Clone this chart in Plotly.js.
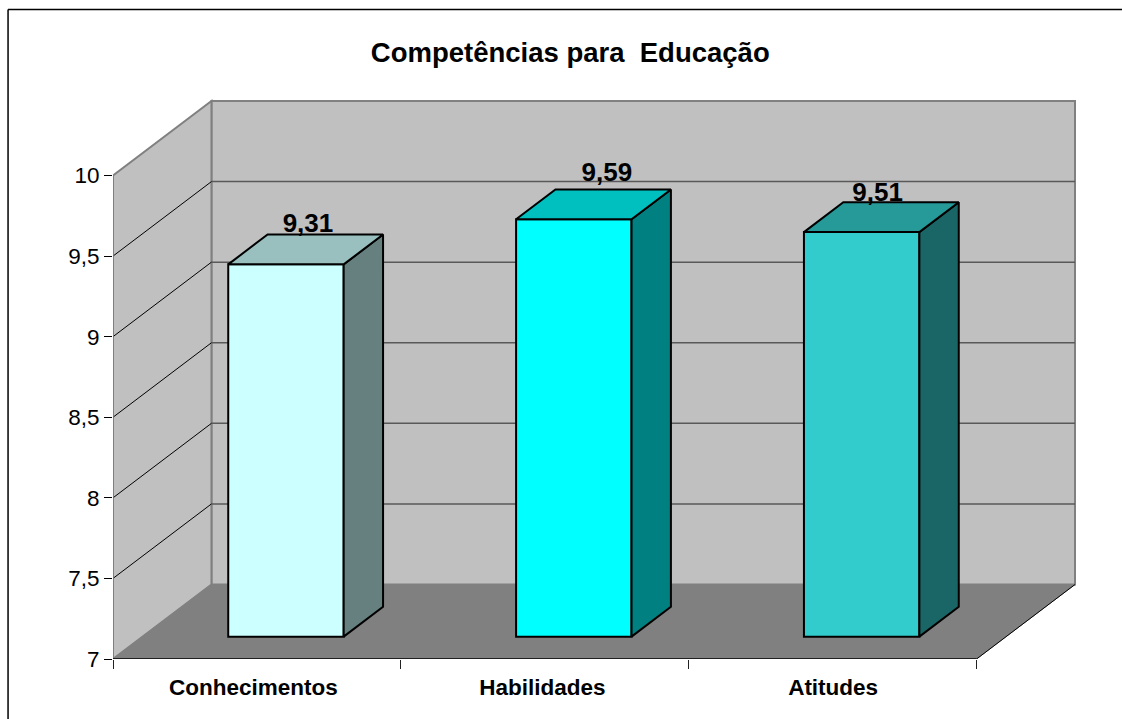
<!DOCTYPE html>
<html><head><meta charset="utf-8">
<script src="https://cdn.plot.ly/plotly-3.0.1.min.js"></script>
<style>html,body{margin:0;padding:0;background:#fff;overflow:hidden}#chart{width:1122px;height:719px}</style>
</head><body><div id="chart"></div>
<script>
const categories = ["Conhecimentos", "Habilidades", "Atitudes"];
const values = [9.31, 9.59, 9.51];
const valueLabels = ["9,31", "9,59", "9,51"];
const yTickVals = [7, 7.5, 8, 8.5, 9, 9.5, 10];
const yTickText = ["7", "7,5", "8", "8,5", "9", "9,5", "10"];
const frontColors = ["#CCFFFF", "#00FFFF", "#33CCCC"];
const sideColors = ["#668080", "#008080", "#1A6666"];
const topColors = ["#99BFBF", "#00BFBF", "#269999"];

// Pixel frame of the pseudo-3D axes
const pxX = 288, pxY = 161.17;            // pixels per category / per unit
const L = 112.5, B = 659, extra = 3;
const depthX = 98.5 / pxX, depthY = 74.5 / pxY; // wall depth in data units
const yMin = 7, yMax = 10, nCat = categories.length;
const xTop = nCat + depthX, yTop = yMax + depthY;
const barW = 115.5 / pxX, zFront = 0.3, zBack = 0.7;
const labelDx = [22, 33, 16], labelDy = [9, 15, 8], catLabelDx = [-3.5, -2.5, 0.5];
const font = "Liberation Sans, Arial, sans-serif";

const centers = categories.map((c, i) => i + 0.5 + zFront * depthX - 0.5 / pxX);
const frontBase = yMin + zFront * depthY;
const dxBar = (zBack - zFront) * depthX, dyBar = (zBack - zFront) * depthY;

const traces = [{
  type: "bar", x: centers, y: values.map(v => v - yMin), base: frontBase,
  width: barW, marker: {color: frontColors, line: {color: "#000", width: 2}},
  showlegend: false, hoverinfo: "skip"
}];
values.forEach((v, i) => {
  const x0 = centers[i] - barW / 2, x1 = centers[i] + barW / 2;
  const t = v + zFront * depthY;
  const poly = (xs, ys, col) => traces.push({
    type: "scatter", mode: "lines", x: xs, y: ys, fill: "toself", fillcolor: col,
    line: {color: "#000", width: 2}, showlegend: false, hoverinfo: "skip"
  });
  poly([x1, x1 + dxBar, x1 + dxBar, x1, x1], [frontBase, frontBase + dyBar, t + dyBar, t, frontBase], sideColors[i]);
  poly([x0, x1, x1 + dxBar, x0 + dxBar, x0], [t, t, t + dyBar, t + dyBar, t], topColors[i]);
});
traces.push({
  type: "scatter", mode: "text", cliponaxis: false, showlegend: false, hoverinfo: "skip",
  x: centers.map((c, i) => c + labelDx[i] / pxX),
  y: values.map((v, i) => v + zBack * depthY + labelDy[i] / pxY),
  text: valueLabels, textposition: "middle center",
  textfont: {family: font, size: 26, color: "#000", weight: 700}
});
// axis edges that sit on the plot boundary
const edge = (xs, ys, col, w) => traces.push({
  type: "scatter", mode: "lines", x: xs, y: ys, cliponaxis: false,
  line: {color: col, width: w}, showlegend: false, hoverinfo: "skip"
});
edge([0, 0], [yMin, yMax], "#808080", 1.5);
edge([0, nCat], [yMin, yMin], "#000", 1.5);

const poly = (xs, ys) => "M" + xs.map((x, i) => x + "," + ys[i]).join("L") + "Z";
const shapes = [
  {type: "path", layer: "below", xref: "x", yref: "y",
   path: poly([depthX, xTop, xTop, depthX], [yMin + depthY, yMin + depthY, yTop, yTop]),
   fillcolor: "#C0C0C0", line: {color: "#808080", width: 2}},
  {type: "path", layer: "below", xref: "x", yref: "y",
   path: poly([0, depthX, depthX, 0], [yMin, yMin + depthY, yTop, yMax]),
   fillcolor: "#C0C0C0", line: {color: "#808080", width: 2}},
  {type: "path", layer: "below", xref: "x", yref: "y",
   path: poly([0, nCat, xTop, depthX], [yMin, yMin, yMin + depthY, yMin + depthY]),
   fillcolor: "#808080", line: {color: "#808080", width: 1}},
  {type: "line", layer: "below", xref: "x", yref: "y", x0: nCat, y0: yMin, x1: xTop, y1: yMin + depthY,
   line: {color: "#000", width: 1}}
];
yTickVals.filter(v => v > yMin && v < yMax).forEach(v => {
  shapes.push({type: "line", layer: "below", xref: "x", yref: "y", x0: depthX, x1: xTop, y0: v + depthY, y1: v + depthY,
    line: {color: "#595959", width: 1.5}});
  shapes.push({type: "line", layer: "below", xref: "x", yref: "y", x0: 0, x1: depthX, y0: v, y1: v + depthY,
    line: {color: "#000", width: 1}});
});
// chart-area frame: left and top edges only, the rest is cropped off
const W = 1122, H = 719;
const plotW = xTop * pxX + extra, plotH = (yTop - yMin) * pxY + extra;
const pX = px => (px - L) / plotW, pY = py => (B - py) / plotH;
shapes.push({type: "line", xref: "paper", yref: "paper", x0: pX(7.5), x1: pX(7.5), y0: pY(9.5), y1: pY(H + 2), line: {color: "#000", width: 1.5}});
shapes.push({type: "line", xref: "paper", yref: "paper", x0: pX(7.5), x1: pX(W + 2), y0: pY(9.5), y1: pY(9.5), line: {color: "#000", width: 1.5}});

const layout = {
  width: W, height: H, paper_bgcolor: "#fff", plot_bgcolor: "rgba(0,0,0,0)",
  margin: {l: L, r: W - L - plotW, t: B - plotH, b: H - B, pad: 0},
  barmode: "overlay", showlegend: false, shapes,
  title: {text: "Competências para \u00a0Educação", x: pX(570), xanchor: "center", xref: "paper",
    y: 1 - 52 / H, yanchor: "middle", yref: "container", font: {family: font, size: 27.5, color: "#000", weight: 700}},
  font: {family: font, color: "#000"},
  xaxis: {type: "linear", range: [0, plotW / pxX], fixedrange: true, showgrid: false, zeroline: false, showline: false,
    tickmode: "array", tickvals: categories.map((c, i) => i + 0.5 + catLabelDx[i] / pxX), ticktext: categories,
    ticks: "", ticklen: 0, tickfont: {family: font, size: 22.5, color: "#000", weight: 700}, ticklabelstandoff: 12,
    minor: {ticks: "outside", tickmode: "array", tickvals: [0, 1, 2, 3], ticklen: 9, tickwidth: 1, tickcolor: "#222", showgrid: false}},
  yaxis: {type: "linear", range: [yMin, yMin + plotH / pxY], fixedrange: true, showgrid: false, zeroline: false, showline: false,
    tickmode: "array", tickvals: yTickVals, ticktext: yTickText, ticks: "outside", ticklen: 8, tickwidth: 1, tickcolor: "#000",
    tickfont: {family: font, size: 22.5, color: "#000"}, ticklabelstandoff: 0}
};
Plotly.newPlot("chart", traces, layout, {displayModeBar: false, staticPlot: true});
</script></body></html>
